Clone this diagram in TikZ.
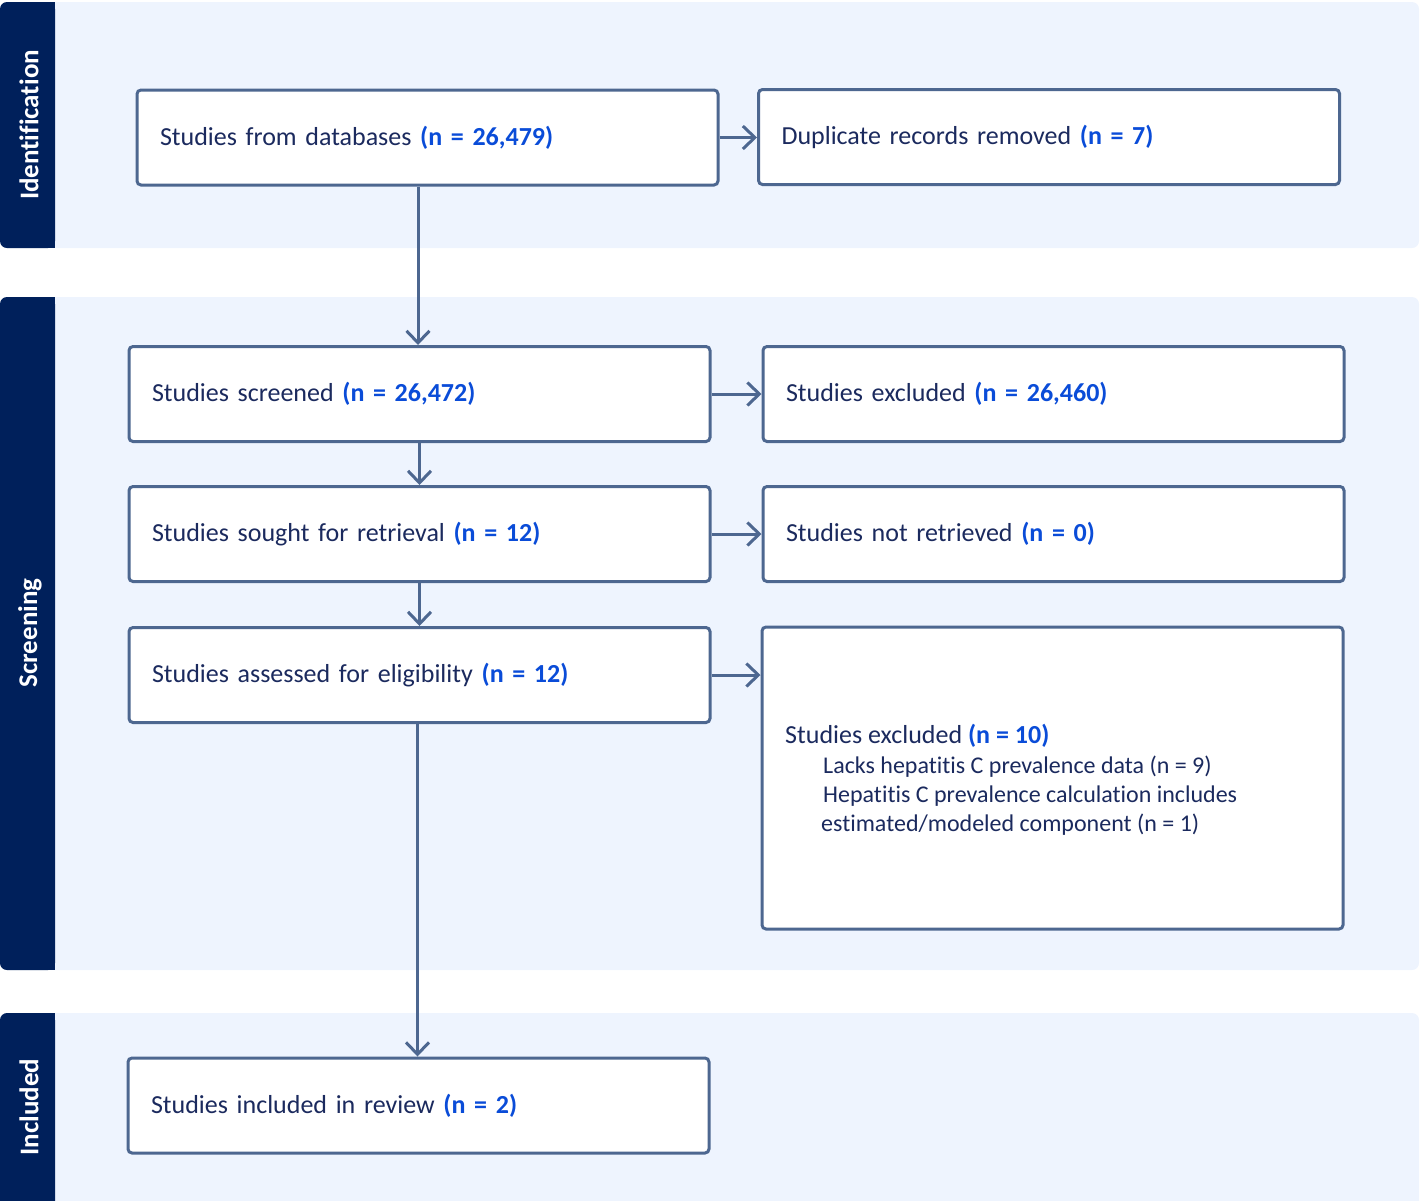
\documentclass[tikz,border=0pt]{standalone}
\usepackage{fontspec}
\setmainfont{Carlito}[Ligatures=NoCommon]
\usetikzlibrary{arrows.meta}
\definecolor{tabc}{HTML}{00205B}
\definecolor{bandc}{HTML}{EEF4FE}
\definecolor{boxc}{HTML}{4D6790}
\definecolor{txtc}{HTML}{1B2A5E}
\definecolor{numc}{HTML}{0A4CD8}
\newcommand{\nn}[1]{\textbf{\color{numc}#1}}
\newcommand{\lw}[1]{\raisebox{-1.5pt}{#1}}
\tikzset{
  stagebox/.style={draw=boxc, line width=3pt, fill=white, rounded corners=4pt,
    minimum width=581pt, minimum height=95pt, text width=535pt, inner xsep=23pt,
    align=left, text=txtc, font=\fontsize{26}{31}\selectfont},
  arr/.style={draw=boxc, line width=3pt, -{Straight Barb[length=12pt,width=23pt,line width=3pt]}},
  tablabel/.style={rotate=90, text=white, font=\bfseries\fontsize{27}{32}\selectfont},
  subline/.style={anchor=west, inner sep=0pt, text=txtc, font=\fontsize{24}{29}\selectfont},
  band/.style={fill=bandc, rounded corners=7pt},
  tab/.style={fill=tabc, rounded corners=7pt}
}
\begin{document}
\begin{tikzpicture}[x=1pt,y=-1pt]
\useasboundingbox (0,0) rectangle (1421,1200);
% bands
\fill[band] (0,2) rectangle (1419,248);
\fill[tab] (0,2) rectangle (55,248);
\fill[tabc] (30,2) rectangle (55,248);
\fill[band] (0,297) rectangle (1419,970);
\fill[tab] (0,297) rectangle (55,970);
\fill[tabc] (30,297) rectangle (55,970);
\begin{scope}
\clip (0,0) rectangle (1421,1200);
\fill[band] (0,1013) rectangle (1419,1230);
\fill[tab] (0,1013) rectangle (55,1230);
\fill[tabc] (30,1013) rectangle (55,1230);
\end{scope}
\node[tablabel] (tid) at (29,125) {Identification};
\node[tablabel] (tsc) at (30,633) {Screening};
\node[tablabel] (tin) at (29,1107) {Included};
% boxes
\node[stagebox] (db) at (427.5,137.5) {\lw{Studies from databases \nn{(n = 26,479)}}};
\node[stagebox] (dup) at (1049,137) {\lw{Duplicate records removed \nn{(n = 7)}}};
\node[stagebox] (scr) at (419.5,394) {\lw{Studies screened \nn{(n = 26,472)}}};
\node[stagebox] (exc) at (1053.5,394) {\lw{Studies excluded \nn{(n = 26,460)}}};
\node[stagebox] (sou) at (419.5,534) {\lw{Studies sought for retrieval \nn{(n = 12)}}};
\node[stagebox] (nre) at (1053.5,534) {\lw{Studies not retrieved \nn{(n = 0)}}};
\node[stagebox] (ass) at (419.5,675) {\lw{Studies assessed for eligibility \nn{(n = 12)}}};
\node[stagebox, minimum height=302pt] (ex10) at (1052.5,778) {};
\node[subline, font=\fontsize{26}{31}\selectfont] (ex10t) at (785,736) {Studies excluded \nn{(n = 10)}};
\node[subline] (ex10a) at (823,767) {Lacks hepatitis C prevalence data (n = 9)};
\node[subline] (ex10b) at (823,796) {Hepatitis C prevalence calculation includes};
\node[subline] (ex10c) at (821,825) {estimated/modeled component (n = 1)};
\node[stagebox] (inc) at (418.5,1105.5) {\lw{Studies included in review \nn{(n = 2)}}};
% arrows
\draw[arr] (db.south -| scr.north) ++(-1.5,0) coordinate (a1) -- (a1 |- scr.north);
\draw[arr] (scr.south) -- (sou.north);
\draw[arr] (sou.south) -- (ass.north);
\draw[arr] (ass.south) ++(-2,0) coordinate (a4) -- (a4 |- inc.north);
\draw[arr] (db.east) -- (db.east -| dup.west);
\draw[arr] (scr.east) -- (exc.west);
\draw[arr] (sou.east) -- (nre.west);
\draw[arr] (ass.east) -- (ass.east -| ex10.west);
\end{tikzpicture}
\end{document}
